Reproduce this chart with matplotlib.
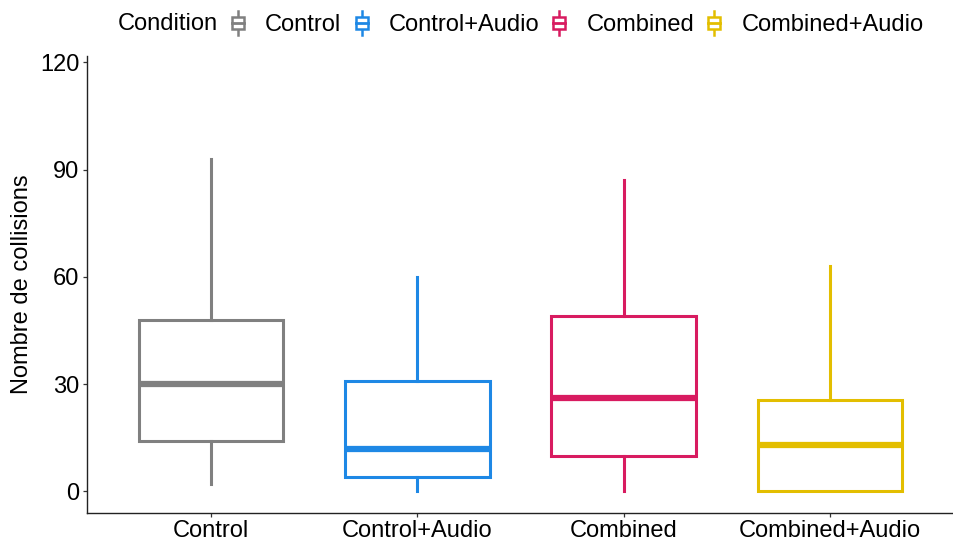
import matplotlib
matplotlib.use("Agg")
import matplotlib.pyplot as plt
from matplotlib.patches import Patch, Rectangle
from matplotlib.lines import Line2D
from matplotlib.legend_handler import HandlerBase

plt.rcParams['font.family'] = ['Liberation Sans', 'DejaVu Sans']

# values (number of collisions)
conditions = ["Control", "Control+Audio", "Combined", "Combined+Audio"]
whisker_low = [2, 0, 0, 0]
q1 = [14, 4, 10, 0]
median = [30, 12, 26, 13]
q3 = [48, 31, 49, 25.5]
whisker_high = [93, 60, 87, 63]
colors = ["#808080", "#1E88E5", "#D81B60", "#E3BE00"]
y_ticks = [0, 30, 60, 90, 120]

FS = 17


class BoxKey(HandlerBase):
    """little boxplot glyph for the legend, ggplot style"""
    def create_artists(self, legend, orig_handle, xdescent, ydescent,
                       width, height, fontsize, trans):
        c = orig_handle.get_edgecolor()
        x0, y0 = -xdescent, -ydescent
        cx = x0 + width / 2
        bw = width * 0.85
        whisk = Line2D([cx, cx], [y0 - height * 0.05, y0 + height * 1.05],
                       color=c, lw=1.8, transform=trans)
        box = Rectangle((cx - bw / 2, y0 + height * 0.22), bw, height * 0.56,
                        facecolor="white", edgecolor=c, lw=1.8, transform=trans)
        med = Line2D([cx - bw / 2, cx + bw / 2], [y0 + height * 0.5] * 2,
                     color=c, lw=2.0, transform=trans)
        return [whisk, box, med]


fig = plt.figure(figsize=(9.54, 5.42), dpi=100)
ax = fig.add_axes([87 / 954, 1 - 512.5 / 542, (954 - 87) / 954, (512.5 - 56) / 542])

stats = []
for i, name in enumerate(conditions):
    stats.append(dict(label=name, whislo=whisker_low[i], q1=q1[i], med=median[i],
                      q3=q3[i], whishi=whisker_high[i], fliers=[]))

positions = list(range(1, len(conditions) + 1))
for i, s in enumerate(stats):
    c = colors[i]
    ax.bxp([s], positions=[positions[i]], widths=0.7, showcaps=False,
           showfliers=False, patch_artist=True,
           boxprops=dict(facecolor="white", edgecolor=c, linewidth=2.2),
           whiskerprops=dict(color=c, linewidth=2.2),
           medianprops=dict(color=c, linewidth=4.5, solid_capstyle="butt"))

ax.set_xlim(0.4, 4.6)
ax.set_ylim(-5.9, 121.8)
ax.set_yticks(y_ticks)
ax.set_xticks(positions)
ax.set_xticklabels(conditions)
ax.tick_params(axis="both", direction="out", length=3, width=0.9, colors="#333333",
               labelsize=FS, labelcolor="black", pad=2.5)
ax.set_ylabel("Nombre de collisions", fontsize=FS, labelpad=5)
for side in ["top", "right"]:
    ax.spines[side].set_visible(False)
for side in ["left", "bottom"]:
    ax.spines[side].set_linewidth(1.0)
    ax.spines[side].set_color("#222222")

# legend on top: title at left, keys in a row
fig.text(118 / 954, 1 - 24 / 542, "Condition", fontsize=FS, va="center", ha="left")
handles = [Patch(facecolor="white", edgecolor=c) for c in colors]
fig.legend(handles, conditions, handler_map={Patch: BoxKey()},
           loc="center left", bbox_to_anchor=(231 / 954, 1 - 24 / 542),
           ncol=4, frameon=False, fontsize=FS, handlelength=0.6,
           handleheight=1.05, handletextpad=0.85, columnspacing=0.55,
           borderpad=0, borderaxespad=0)

fig.savefig("out.png", dpi=100)
